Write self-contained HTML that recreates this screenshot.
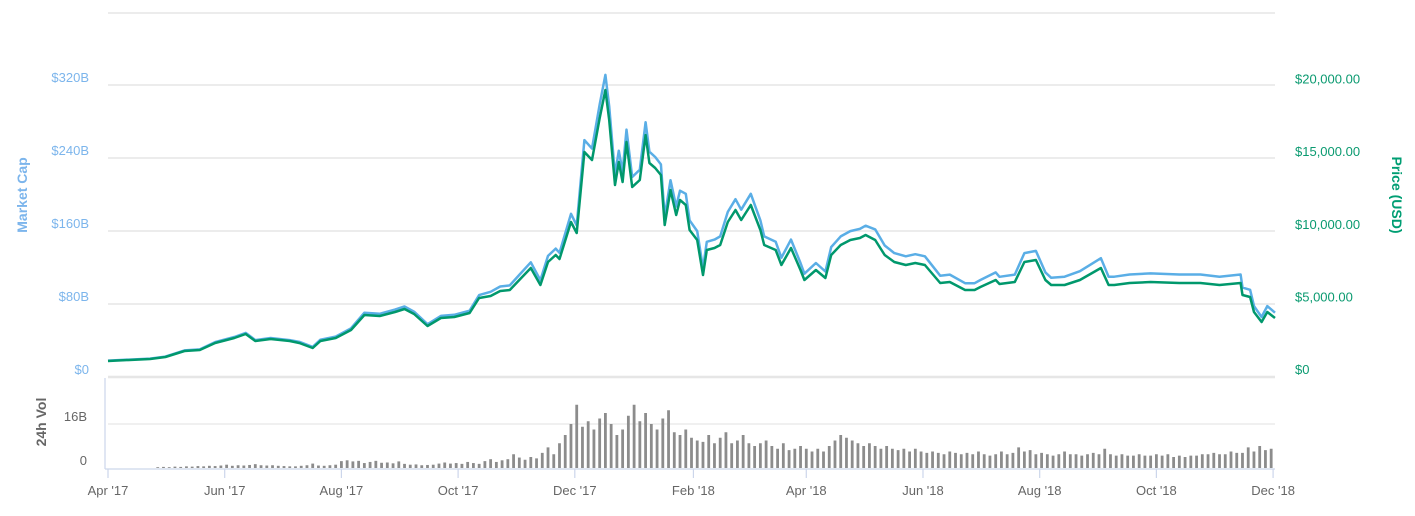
<!DOCTYPE html>
<html><head><meta charset="utf-8">
<style>
html,body{margin:0;padding:0;background:#fff;}
svg{display:block;font-family:"Liberation Sans",sans-serif;}
</style></head>
<body>
<svg id="chart" width="1415" height="516" viewBox="0 0 1415 516">
  <g id="grid"></g>
  <g id="axes"></g>
  <g id="vol"></g>
  <g id="lines"></g>
  <text x="27" y="195" transform="rotate(-90 27 195)" text-anchor="middle" font-size="14" font-weight="bold" fill="#7cb5ec">Market Cap</text>
  <text x="1392" y="195" transform="rotate(90 1392 195)" text-anchor="middle" font-size="14" font-weight="bold" fill="#009e73">Price (USD)</text>
  <text x="46" y="422" transform="rotate(-90 46 422)" text-anchor="middle" font-size="14" font-weight="bold" fill="#666">24h Vol</text>
</svg>
<script>
const priceDays = [0,22,30,40,48,56,66,72,77,85,95,100,107,111,119,127,134,142,150,155,160,167,174,181,189,194,200,205,210,215,221,226,230,234,236,242,245,249,253,257,260,262,265,267,269,271,274,278,281,283,286,289,291,294,297,299,302,304,308,311,313,317,320,324,328,331,336,338,341,343,349,352,357,362,364,370,375,378,383,388,393,396,401,406,411,417,422,427,435,440,448,453,456,464,466,474,479,485,490,493,500,508,519,523,526,534,545,560,571,581,592,593,597,599,603,606,610];
const priceUSD = [1102,1240,1377,1791,1859,2342,2686,2961,2479,2617,2479,2342,1997,2479,2686,3237,4270,4201,4477,4683,4339,3512,4063,4132,4408,5441,5578,5923,5992,6680,7507,6336,7920,8402,8127,10675,9917,15496,14945,17837,19766,17700,13223,14807,13430,16184,13085,13567,16667,14738,14394,13912,10468,12879,11157,12190,11846,10124,9435,7025,8746,8884,9091,10675,11501,10813,11846,11157,10124,9091,8746,7713,8884,7369,6680,7369,6818,8402,9091,9435,9573,9780,9435,8402,7920,7713,7851,7713,6474,6543,5992,5992,6198,6680,6405,6543,7920,8058,6680,6336,6336,6680,7507,6336,6336,6474,6543,6474,6474,6336,6474,5647,5510,4477,3788,4477,4063];
const marketCapB = [18.0,20.2,22.4,29.2,30.3,38.2,43.8,48.3,40.4,42.7,40.4,38.6,33.0,40.9,44.3,53.4,70.5,69.3,73.9,77.3,71.6,57.9,67.0,68.2,72.7,89.8,93.4,99.2,100.4,111.9,125.7,106.1,132.7,140.7,136.1,178.8,166.1,259.6,250.3,298.8,331.1,296.5,221.5,248.0,225.0,271.1,219.2,227.2,279.2,246.9,241.1,233.0,175.3,215.7,186.9,204.2,200.8,171.6,159.9,119.1,148.2,150.6,154.1,180.9,194.9,183.3,200.8,189.1,171.6,154.1,148.2,130.7,150.6,124.9,113.2,124.9,115.6,142.4,154.1,159.9,162.3,165.8,161.8,144.1,135.8,132.3,134.6,132.3,111.0,112.2,102.8,102.8,106.3,114.6,109.8,112.2,135.8,138.2,114.6,108.7,109.9,115.9,130.2,109.9,109.9,112.3,113.5,112.3,112.3,109.9,112.3,98.0,95.6,77.7,65.7,77.7,70.5];
const volStartDay = 26;
const volStepDays = 3;
const volumeB = [
0.3,0.4,0.3,0.5,0.4,0.6,0.5,0.7,0.6,0.8,
0.7,0.9,1.2,0.8,1.0,0.9,1.1,1.4,1.0,0.9,
1.0,0.8,0.7,0.6,0.6,0.8,1.0,1.6,0.9,0.8,
1.0,1.2,2.5,2.8,2.4,2.6,1.8,2.2,2.6,1.9,
2.0,1.7,2.4,1.5,1.2,1.3,1.0,1.1,1.2,1.6,
2.0,1.6,1.8,1.5,2.2,1.8,1.5,2.5,3.2,2.2,
2.8,3.2,5.0,3.8,3.0,4.0,3.5,5.5,7.5,5.0,
9.0,12,16,23,15,17,14,18,20,16,
12,14,19,23,17,20,16,14,18,21,
13,12,14,11,10,9.5,12,9,11,13,
9,10,12,9,8,9,10,8,7,9,
6.5,7,8,7,6,7,6,8,10,12,
11,10,9,8,9,8,7,8,7,6.5,
7,6,7,6,5.5,6,5.5,5,6,5.5,
5,5.5,5,6,5,4.5,5,6,5,5.5,
7.5,6,6.5,5,5.5,5,4.5,5,6,5,
5,4.5,5,5.5,5,7,5,4.5,5,4.5,
4.5,5,4.5,4.5,5,4.5,5,4,4.5,4,
4.5,4.5,5,5,5.5,5,5,6,5.5,5.5,
7.5,6,8,6.5,7];
const capTicks = [0,80,160,240,320];
const capTickLabels = ["$0","$80B","$160B","$240B","$320B"];
const priceTicks = [0,5000,10000,15000,20000];
const priceTickLabels = ["$0","$5,000.00","$10,000.00","$15,000.00","$20,000.00"];
const volTicks = [0,16];
const volTickLabels = ["0","16B"];
const monthDays = [0,61,122,183,244,306,365,426,487,548,609];
const monthLabels = ["Apr '17","Jun '17","Aug '17","Oct '17","Dec '17","Feb '18","Apr '18","Jun '18","Aug '18","Oct '18","Dec '18"];

const NS = "http://www.w3.org/2000/svg";
const X0 = 108, X1 = 1275, DAYS = 610;
const xScale = d => X0 + d * (X1 - X0) / DAYS;
const capY = v => 377 - v * 73 / 80;
const priceY = v => 377 - v * 72.6 / 5000;
const volY = v => 468 - v * 44 / 16;
function mk(tag, attrs, parent) {
  const e = document.createElementNS(NS, tag);
  for (const k in attrs) e.setAttribute(k, attrs[k]);
  parent.appendChild(e);
  return e;
}
const grid = document.getElementById('grid');
const axes = document.getElementById('axes');
const volG = document.getElementById('vol');
const lines = document.getElementById('lines');

mk('line', {x1: X0, x2: X1, y1: 13, y2: 13, stroke: '#e6e6e6', 'stroke-width': 1.5}, grid);
capTicks.forEach((t, i) => {
  const y = capY(t);
  const l = mk('line', {x1: X0, x2: X1, y1: y, y2: y, stroke: '#e6e6e6', 'stroke-width': t === 0 ? 2.5 : 1.5}, grid);
  
  
  const tx = mk('text', {x: 89, y: y - 3, 'text-anchor': 'end', 'font-size': 13, fill: '#7cb5ec'}, axes);
  tx.textContent = capTickLabels[i];
  
  
});
priceTicks.forEach((t, i) => {
  const tx = mk('text', {x: 1295, y: priceY(t) - 3, 'text-anchor': 'start', 'font-size': 13, fill: '#0a9a70'}, axes);
  tx.textContent = priceTickLabels[i];
  
  
});
volTicks.forEach((t, i) => {
  const y = volY(t);
  if (t > 0) {
    const l = mk('line', {x1: X0, x2: X1, y1: y, y2: y, stroke: '#e6e6e6', 'stroke-width': 1.2}, grid);
    
    
  }
  const tx = mk('text', {x: 87, y: y - 3, 'text-anchor': 'end', 'font-size': 13, fill: '#666'}, axes);
  tx.textContent = volTickLabels[i];
  
  
});
mk('line', {x1: 105, x2: 105, y1: 378, y2: 469, stroke: '#ccd6eb', 'stroke-width': 1.2}, axes);
mk('line', {x1: 105, x2: X1, y1: 469, y2: 469, stroke: '#ccd6eb', 'stroke-width': 1.2}, axes);
monthDays.forEach((d, i) => {
  const x = xScale(d);
  mk('line', {x1: x, x2: x, y1: 469, y2: 478, stroke: '#ccd6eb', 'stroke-width': 1.2}, axes);
  const tx = mk('text', {x: x, y: 495, 'text-anchor': 'middle', 'font-size': 13, fill: '#666'}, axes);
  tx.textContent = monthLabels[i];
  
  
});
volumeB.forEach((v, i) => {
  const d = volStartDay + i * volStepDays;
  const x = xScale(d);
  const y = volY(v);
  const r = mk('rect', {x: x - 1.4, y: y, width: 2.8, height: 468 - y, fill: '#8c8c8c'}, volG);
  
  
});
const capPts = priceDays.map((d, i) => xScale(d).toFixed(1) + ',' + capY(marketCapB[i]).toFixed(1)).join(' ');
const pricePts = priceDays.map((d, i) => xScale(d).toFixed(1) + ',' + priceY(priceUSD[i]).toFixed(1)).join(' ');
const capLine = mk('polyline', {points: capPts, fill: 'none', stroke: '#5aaee6', 'stroke-width': 2.5, 'stroke-linejoin': 'round'}, lines);


const priceLine = mk('polyline', {points: pricePts, fill: 'none', stroke: '#00986c', 'stroke-width': 2.5, 'stroke-linejoin': 'round'}, lines);


</script>
</body></html>
